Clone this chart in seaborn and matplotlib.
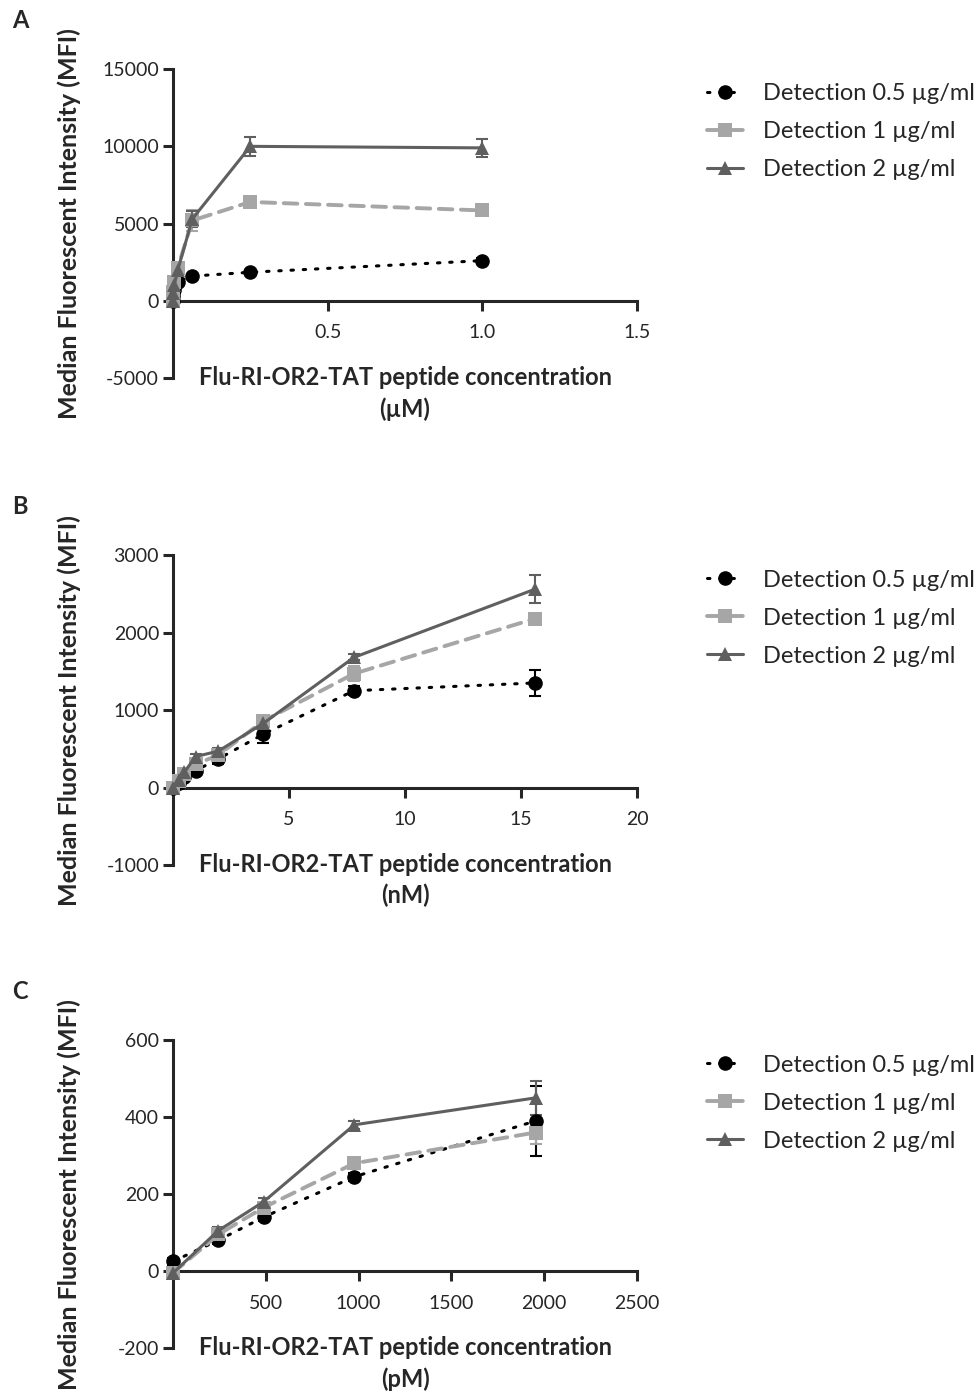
import numpy as np
import matplotlib
matplotlib.use("Agg")
import matplotlib.pyplot as plt
import seaborn as sns

# data (serial dilutions)
conc_A = [0, 0.00098, 0.0039, 0.0156, 0.0625, 0.25, 1.0]   # uM
det05_A = [0, 300, 700, 1250, 1600, 1850, 2600]
det1_A = [0, 600, 1200, 2150, 5200, 6400, 5850]
det2_A = [0, 500, 1000, 2000, 5300, 10000, 9900]
err05_A = [0, 50, 80, 100, 100, 120, 150]
err1_A = [0, 80, 100, 150, 700, 250, 300]
err2_A = [0, 80, 100, 150, 500, 600, 600]

conc_B = [0, 0.24, 0.49, 0.98, 1.95, 3.9, 7.8, 15.6]   # nM
det05_B = [0, 60, 130, 220, 370, 690, 1250, 1350]
det1_B = [0, 80, 180, 300, 420, 860, 1470, 2180]
det2_B = [0, 100, 200, 400, 470, 830, 1680, 2560]
err05_B = [0, 20, 20, 30, 60, 120, 60, 170]
err1_B = [0, 20, 20, 30, 40, 60, 100, 60]
err2_B = [0, 20, 20, 30, 40, 60, 40, 180]

conc_C = [0, 244, 488, 977, 1953]   # pM
det05_C = [25, 80, 140, 245, 390]
det1_C = [-5, 95, 165, 280, 360]
det2_C = [-5, 105, 180, 380, 450]
err05_C = [10, 10, 10, 10, 90]
err1_C = [5, 10, 10, 10, 30]
err2_C = [5, 10, 10, 10, 45]

labels = ["Detection 0.5 \u00b5g/ml", "Detection 1 \u00b5g/ml", "Detection 2 \u00b5g/ml"]

panels = [
    dict(letter="A", x=conc_A, ys=[det05_A, det1_A, det2_A], errs=[err05_A, err1_A, err2_A],
         xlim=(0, 1.5), xticks=[0.5, 1.0, 1.5], xfmt="{:.1f}",
         ylim=(-5000, 15000), yticks=[-5000, 0, 5000, 10000, 15000], unit="(\u00b5M)",
         rect=[0.1767, 0.7286, 0.474, 0.2218]),
    dict(letter="B", x=conc_B, ys=[det05_B, det1_B, det2_B], errs=[err05_B, err1_B, err2_B],
         xlim=(0, 20), xticks=[5, 10, 15, 20], xfmt="{:.0f}",
         ylim=(-1000, 3000), yticks=[-1000, 0, 1000, 2000, 3000], unit="(nM)",
         rect=[0.1767, 0.379, 0.474, 0.2225]),
    dict(letter="C", x=conc_C, ys=[det05_C, det1_C, det2_C], errs=[err05_C, err1_C, err2_C],
         xlim=(0, 2500), xticks=[500, 1000, 1500, 2000, 2500], xfmt="{:.0f}",
         ylim=(-200, 600), yticks=[-200, 0, 200, 400, 600], unit="(pM)",
         rect=[0.1767, 0.0323, 0.474, 0.221]),
]

styles = [
    dict(color="#000000", marker="o", ms=10.5, lw=2.2, ls=(0, (0.8, 3.2))),
    dict(color="#a6a6a6", marker="s", ms=10, lw=2.8, ls=(0, (3.5, 2.2))),
    dict(color="#5f5f5f", marker="^", ms=10, lw=2.2, ls="-"),
]

sns.set_theme(style="ticks")
plt.rcParams["font.family"] = ["Lato", "DejaVu Sans"]
plt.rcParams["axes.linewidth"] = 2.2
plt.rcParams["axes.unicode_minus"] = False

fig = plt.figure(figsize=(9.79, 13.93), dpi=100)

for p in panels:
    ax = fig.add_axes(p["rect"])
    for y, e, st, lab in zip(p["ys"], p["errs"], styles, labels):
        ax.errorbar(p["x"], y, yerr=e, fmt="none", ecolor=st["color"], elinewidth=1.5,
                    capsize=4, capthick=1.5, clip_on=False, zorder=2)
        sns.lineplot(x=p["x"], y=y, ax=ax, color=st["color"], marker=st["marker"],
                     markersize=st["ms"], markeredgewidth=0, linewidth=st["lw"],
                     linestyle=st["ls"], dash_capstyle="round", label=lab,
                     clip_on=False, zorder=3, errorbar=None, sort=False)
    ax.set_xlim(*p["xlim"])
    ax.set_ylim(*p["ylim"])
    ax.set_xticks(p["xticks"])
    ax.set_xticklabels([p["xfmt"].format(t) for t in p["xticks"]])
    ax.set_yticks(p["yticks"])
    ax.spines["bottom"].set_position(("data", 0))
    sns.despine(ax=ax)
    ax.tick_params(axis="both", length=7, width=2.2, labelsize=14, direction="out", pad=3)
    ax.tick_params(axis="x", pad=10)
    ax.set_ylabel("Median Fluorescent Intensity (MFI)", fontsize=18, fontweight="bold")
    ax.yaxis.set_label_coords(-0.198, 0.5)
    ax.set_xlabel("")
    ax.text(0.5, 0.04, "Flu-RI-OR2-TAT peptide concentration\n" + p["unit"],
            transform=ax.transAxes, ha="center", va="top", fontsize=17,
            fontweight="bold", linespacing=1.42)
    ax.legend(loc="upper left", bbox_to_anchor=(1.131, 0.984), frameon=False, fontsize=17,
              handlelength=1.5, handletextpad=0.85, labelspacing=0.72, borderaxespad=0)
    fig.text(0.012, p["rect"][1] + p["rect"][3] + 0.035, p["letter"], fontsize=17,
             fontweight="bold", va="center")

fig.savefig("out.png", dpi=100)
